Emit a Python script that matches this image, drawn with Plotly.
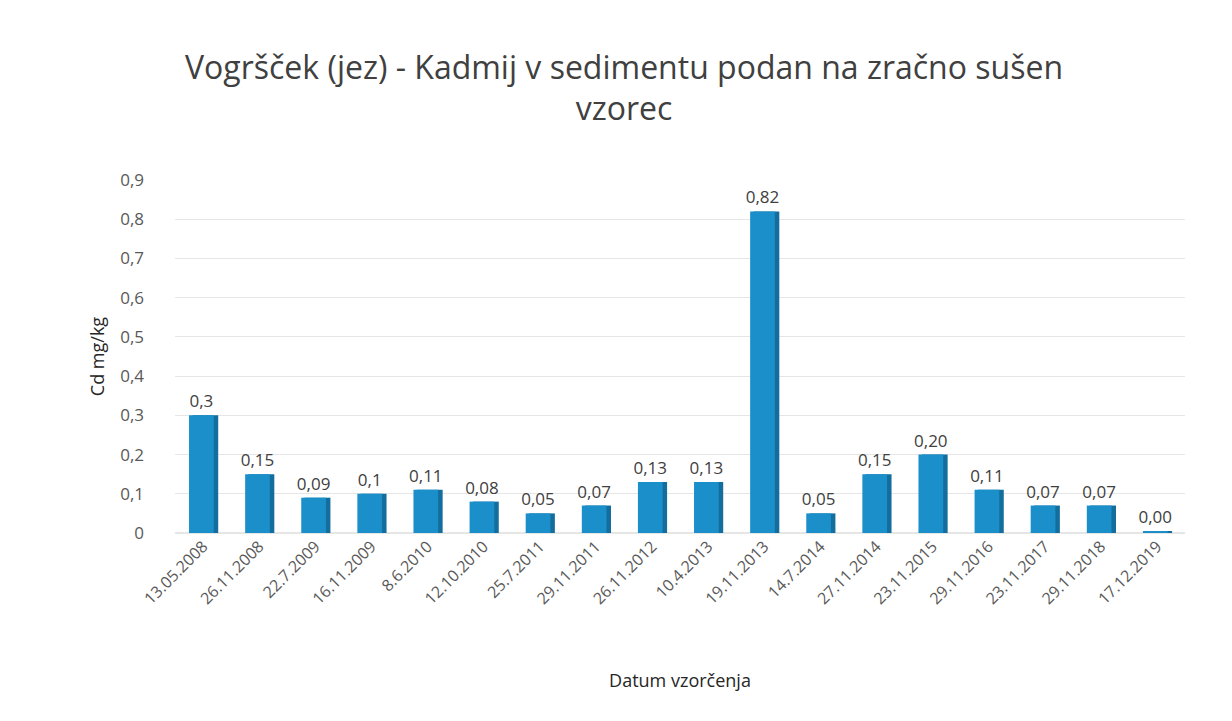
import plotly.graph_objects as go

dates = ["13.05.2008", "26.11.2008", "22.7.2009", "16.11.2009", "8.6.2010", "12.10.2010",
         "25.7.2011", "29.11.2011", "26.11.2012", "10.4.2013", "19.11.2013", "14.7.2014",
         "27.11.2014", "23.11.2015", "29.11.2016", "23.11.2017", "29.11.2018", "17.12.2019"]
values = [0.30, 0.15, 0.09, 0.10, 0.11, 0.08, 0.05, 0.07, 0.13, 0.13, 0.82, 0.05,
          0.15, 0.20, 0.11, 0.07, 0.07, 0.003]
labels = ["0,3", "0,15", "0,09", "0,1", "0,11", "0,08", "0,05", "0,07", "0,13", "0,13",
          "0,82", "0,05", "0,15", "0,20", "0,11", "0,07", "0,07", "0,00"]
y_ticks = [0, 0.1, 0.2, 0.3, 0.4, 0.5, 0.6, 0.7, 0.8, 0.9]
y_tick_text = ["0", "0,1", "0,2", "0,3", "0,4", "0,5", "0,6", "0,7", "0,8", "0,9"]

FONT = "Open Sans"

fig = go.Figure()
# darker side face (3D look)
fig.add_trace(go.Bar(
    x=dates, y=values, width=0.46, offset=-0.19,
    marker=dict(color="#136e9e", line=dict(width=0)),
    hoverinfo="skip",
))
# front face
fig.add_trace(go.Bar(
    x=dates, y=values, width=0.44, offset=-0.25,
    text=labels, textposition="outside", constraintext="none",
    textfont=dict(family=FONT, size=17, color="#404040"),
    marker=dict(color="#1b8fca", line=dict(width=0)),
    cliponaxis=False,
))

fig.update_layout(
    width=1232, height=721,
    paper_bgcolor="white", plot_bgcolor="white",
    margin=dict(l=167, r=55, t=172, b=196),
    showlegend=False, barmode="overlay",
    title=dict(text="Vogršček (jez) - Kadmij v sedimentu podan na zračno sušen<br>vzorec",
               x=0.5, xanchor="center", yref="container", y=0.902, yanchor="middle",
               font=dict(family=FONT, size=32, color="#404040")),
    font=dict(family=FONT, color="#595959"),
)
fig.update_xaxes(
    tickangle=-45, tickfont=dict(family=FONT, size=16, color="#595959"),
    title=dict(text="Datum vzorčenja", font=dict(family=FONT, size=18, color="#262626"), standoff=66),
    showgrid=False, showline=False, ticks="",
)
fig.update_yaxes(
    range=[0, 0.9], tickvals=y_ticks, ticktext=y_tick_text,
    tickfont=dict(family=FONT, size=17, color="#595959"),
    ticklabelstandoff=30,
    title=dict(text="Cd mg/kg", font=dict(family=FONT, size=18, color="#262626"), standoff=10),
    showgrid=True, gridcolor="#e6e6e6", gridwidth=1, zeroline=True, zerolinecolor="#e6e6e6",
    ticks="",
)

fig.write_html("out.html")
